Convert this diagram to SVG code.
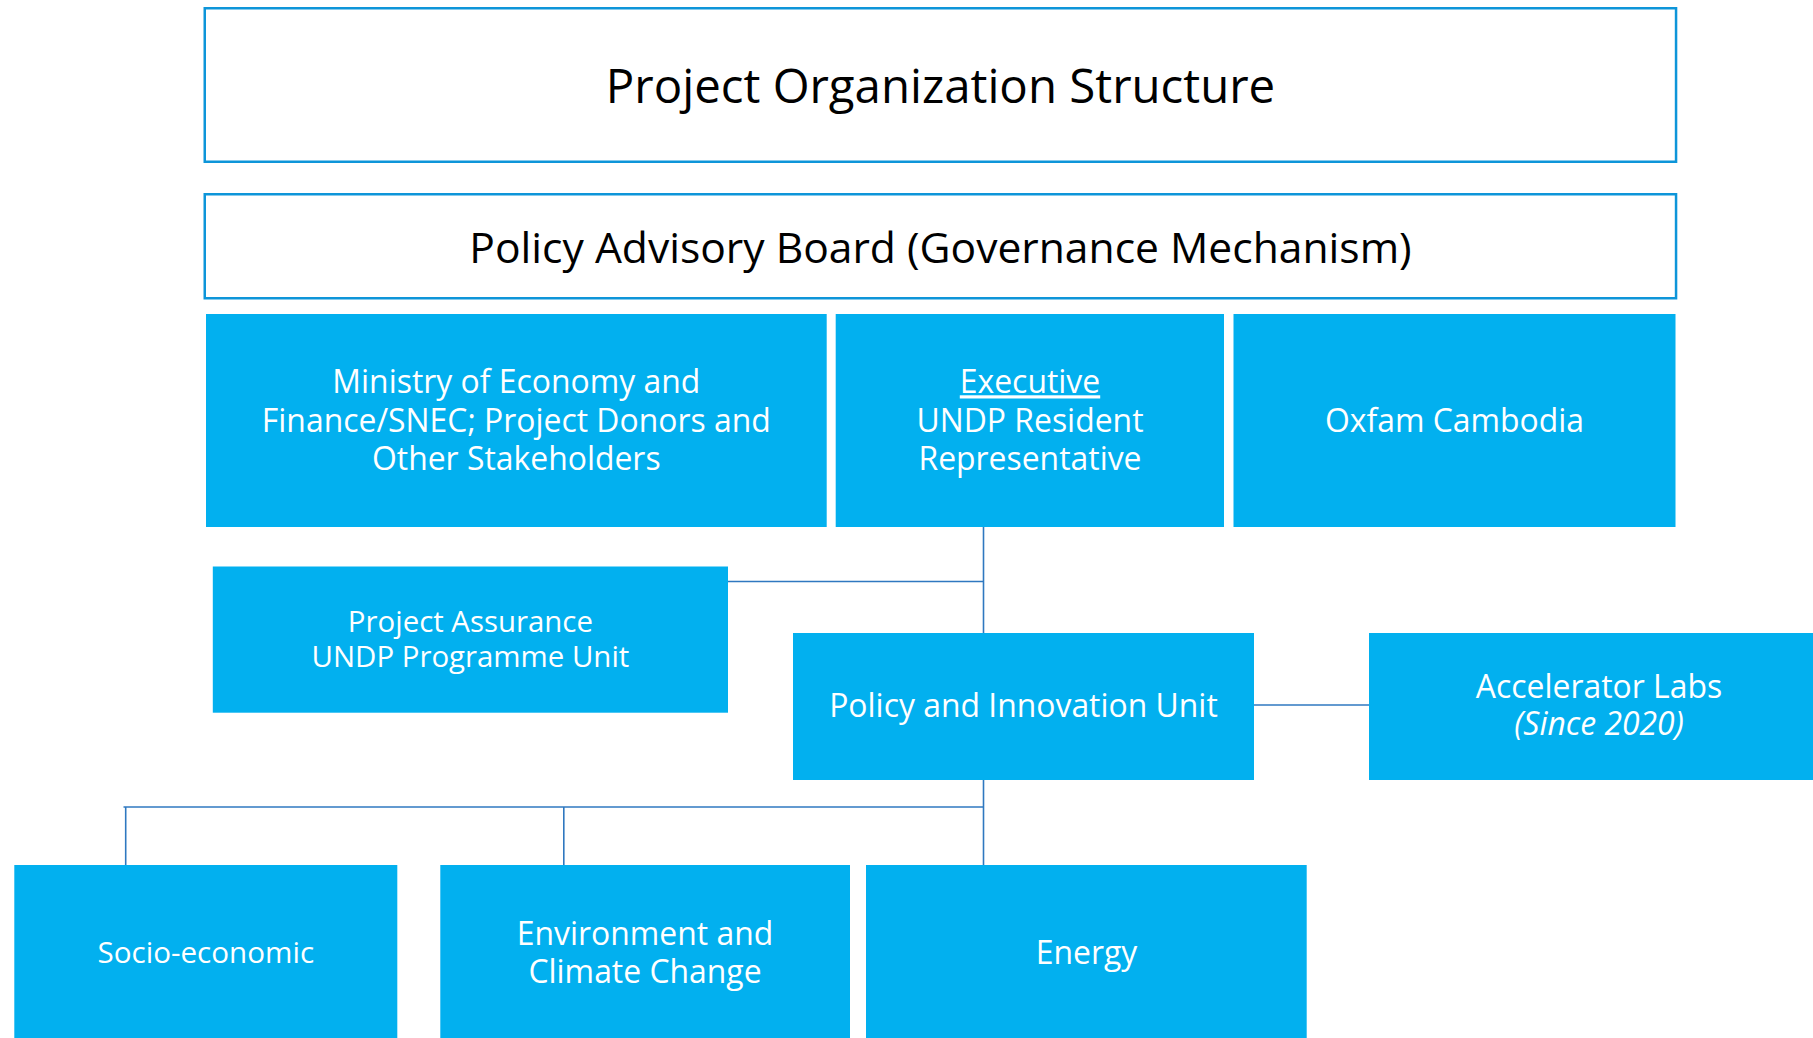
<svg xmlns="http://www.w3.org/2000/svg" width="1813" height="1038" viewBox="0 0 1813 1038">
  <style>
    .frame { fill: #ffffff; stroke: #0d95d9; stroke-width: 2.5; }
    .unit { fill: #02b0ef; }
    .head { font-family: "Open Sans", "Liberation Sans", sans-serif; fill: #000000; text-anchor: middle; }
    .lbl { font-family: "Open Sans", "Liberation Sans", sans-serif; fill: #ffffff; text-anchor: middle; font-size: 31.9px; }
    .lbl.small { font-size: 29.4px; }
    .lbl.mid { font-size: 29.6px; }
    .link { fill: none; stroke: #2f78c0; stroke-width: 1.6; }
  </style>
  <rect width="1813" height="1038" fill="#ffffff"/>

  <!-- connectors -->
  <g id="connectors">
    <line class="link" x1="983.5" y1="527" x2="983.5" y2="634"/>
    <line class="link" x1="728" y1="581.5" x2="983.5" y2="581.5"/>
    <line class="link" x1="1254" y1="705" x2="1369" y2="705"/>
    <line class="link" x1="983.5" y1="779" x2="983.5" y2="866"/>
    <line class="link" x1="123.5" y1="807" x2="983.5" y2="807"/>
    <line class="link" x1="125.7" y1="807" x2="125.7" y2="866"/>
    <line class="link" x1="563.8" y1="807" x2="563.8" y2="866"/>
  </g>

  <g id="title">
    <rect class="frame" x="204.75" y="8.25" width="1471.3" height="153.5"/>
    <text class="head" x="940.5" y="102.5" font-size="47.4">Project Organization Structure</text>
  </g>

  <g id="advisory-board">
    <rect class="frame" x="204.75" y="194.25" width="1471.3" height="104"/>
    <text class="head" x="940.5" y="262.5" font-size="42.6">Policy Advisory Board (Governance Mechanism)</text>
  </g>

  <g id="ministry">
    <rect class="unit" x="206" y="314" width="620.7" height="213"/>
    <text class="lbl" x="516.3" y="393.3">Ministry of Economy and</text>
    <text class="lbl" x="516.3" y="431.6">Finance/SNEC; Project Donors and</text>
    <text class="lbl" x="516.3" y="469.9">Other Stakeholders</text>
  </g>

  <g id="executive">
    <rect class="unit" x="835.7" y="314" width="388.3" height="213"/>
    <text class="lbl" x="1030" y="393.3" text-decoration="underline">Executive</text>
    <text class="lbl" x="1030" y="431.6">UNDP Resident</text>
    <text class="lbl" x="1030" y="469.9">Representative</text>
  </g>

  <g id="oxfam">
    <rect class="unit" x="1233.5" y="314" width="442" height="213"/>
    <text class="lbl" x="1454.5" y="431.6">Oxfam Cambodia</text>
  </g>

  <g id="project-assurance">
    <rect class="unit" x="212.8" y="566.5" width="515.2" height="146.2"/>
    <text class="lbl small" x="470.4" y="631.7">Project Assurance</text>
    <text class="lbl small" x="470.4" y="666.7">UNDP Programme Unit</text>
  </g>

  <g id="policy-innovation">
    <rect class="unit" x="793" y="633" width="461" height="147"/>
    <text class="lbl" x="1023.5" y="717">Policy and Innovation Unit</text>
  </g>

  <g id="accelerator-labs">
    <rect class="unit" x="1369" y="633" width="461" height="147"/>
    <text class="lbl" x="1599" y="698.3">Accelerator Labs</text>
    <text class="lbl" x="1599" y="735" font-style="italic">(Since 2020)</text>
  </g>

  <g id="socio-economic">
    <rect class="unit" x="14.3" y="865" width="383" height="180"/>
    <text class="lbl mid" x="205.8" y="963">Socio-economic</text>
  </g>

  <g id="environment">
    <rect class="unit" x="440.3" y="865" width="409.7" height="180"/>
    <text class="lbl" x="645" y="945">Environment and</text>
    <text class="lbl" x="645" y="983.3">Climate Change</text>
  </g>

  <g id="energy">
    <rect class="unit" x="866" y="865" width="440.7" height="180"/>
    <text class="lbl" x="1086.5" y="963.5">Energy</text>
  </g>
</svg>
